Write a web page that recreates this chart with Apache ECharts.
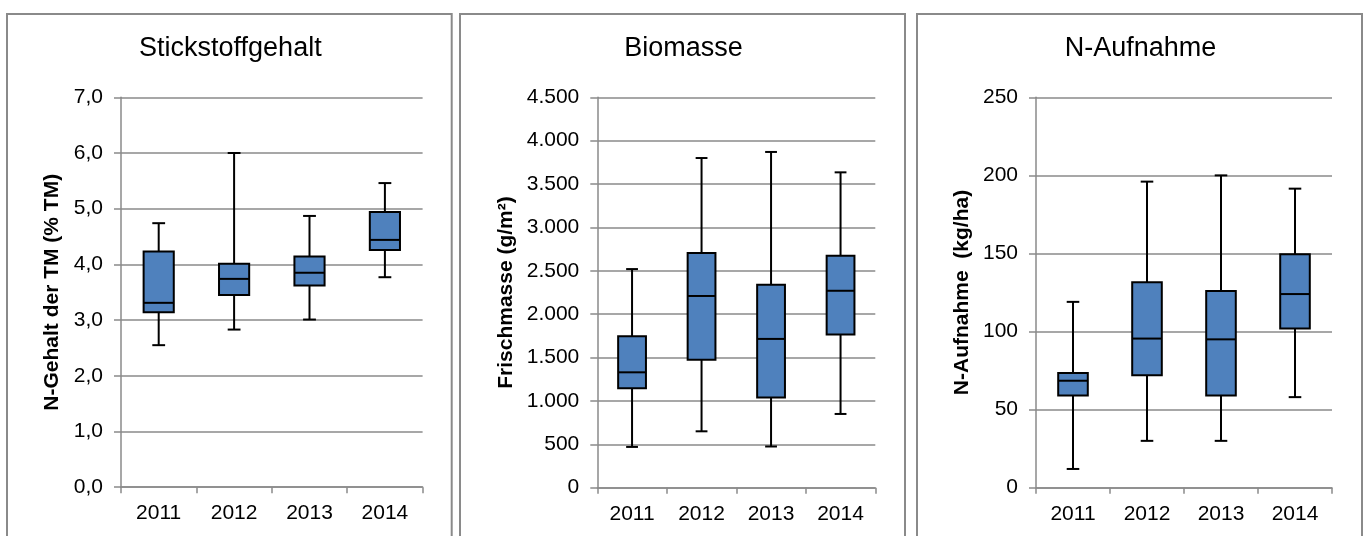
<!DOCTYPE html>
<html>
<head>
<meta charset="utf-8">
<script src="https://cdn.jsdelivr.net/npm/echarts@6/dist/echarts.min.js"></script>
<style>
  html, body { margin: 0; padding: 0; background: #ffffff; }
  #chart { width: 1365px; height: 536px; }
</style>
</head>
<body>
<div id="chart"></div>
<script>
// Erntejahre
const years = ['2011', '2012', '2013', '2014'];

// Stickstoffgehalt, N-Gehalt der TM (% TM)
const nGehaltMin    = [2.55, 2.83, 3.01, 3.77];
const nGehaltQ1     = [3.14, 3.45, 3.62, 4.26];
const nGehaltMedian = [3.31, 3.74, 3.85, 4.44];
const nGehaltQ3     = [4.23, 4.01, 4.14, 4.94];
const nGehaltMax    = [4.74, 6.00, 4.87, 5.46];

// Biomasse, Frischmasse (g/m²)
const biomasseMin    = [470, 650, 475, 850];
const biomasseQ1     = [1145, 1475, 1040, 1765];
const biomasseMedian = [1330, 2210, 1715, 2270];
const biomasseQ3     = [1745, 2705, 2340, 2675];
const biomasseMax    = [2520, 3800, 3870, 3635];

// N-Aufnahme (kg/ha)
const nAufnahmeMin    = [12, 30, 30, 58];
const nAufnahmeQ1     = [59, 72, 59, 102];
const nAufnahmeMedian = [68.5, 95.5, 95, 124];
const nAufnahmeQ3     = [73.5, 131.5, 126, 149.5];
const nAufnahmeMax    = [119, 196, 200, 191.5];

// Achsenbeschriftungen
const titles = ['Stickstoffgehalt', 'Biomasse', 'N-Aufnahme'];
const axisNames = ['N-Gehalt der TM (% TM)', 'Frischmasse (g/m²)', 'N-Aufnahme  (kg/ha)'];

const FONT = '"Liberation Sans", Arial, Helvetica, sans-serif';
const GREY = '#8a8a8a';
const BOX_BLUE = '#4f81bd';

function toRows(mins, q1s, meds, q3s, maxs) {
  return years.map((_, i) => [i, mins[i], q1s[i], meds[i], q3s[i], maxs[i]]);
}

// Box with whiskers and short end caps, positioned through the axis scales
function renderBox(params, api) {
  const i = api.value(0);
  const pMin = api.coord([i, api.value(1)]);
  const pQ1  = api.coord([i, api.value(2)]);
  const pMed = api.coord([i, api.value(3)]);
  const pQ3  = api.coord([i, api.value(4)]);
  const pMax = api.coord([i, api.value(5)]);
  const band = api.size([1, 0])[0];
  const cx = pMed[0];
  const bw = band * 0.4;
  const cw = band * 0.17;
  const ink = { stroke: '#000000', lineWidth: 2, fill: null };
  return {
    type: 'group',
    children: [
      { type: 'line', shape: { x1: cx, y1: pMax[1], x2: cx, y2: pQ3[1] }, style: ink },
      { type: 'line', shape: { x1: cx, y1: pQ1[1], x2: cx, y2: pMin[1] }, style: ink },
      { type: 'line', shape: { x1: cx - cw / 2, y1: pMax[1], x2: cx + cw / 2, y2: pMax[1] }, style: ink },
      { type: 'line', shape: { x1: cx - cw / 2, y1: pMin[1], x2: cx + cw / 2, y2: pMin[1] }, style: ink },
      { type: 'rect', shape: { x: cx - bw / 2, y: pQ3[1], width: bw, height: pQ1[1] - pQ3[1] },
        style: { fill: BOX_BLUE, stroke: '#000000', lineWidth: 2 } },
      { type: 'line', shape: { x1: cx - bw / 2, y1: pMed[1], x2: cx + bw / 2, y2: pMed[1] }, style: ink }
    ]
  };
}

const fmtComma1 = v => v.toFixed(1).replace('.', ',');
const fmtThousands = v => v >= 1000
  ? Math.floor(v / 1000) + '.' + String(v % 1000).padStart(3, '0')
  : String(v);
const fmtPlain = v => String(v);

const grids = [
  { left: 121,  top: 97.3, width: 301.6, height: 389.9 },
  { left: 597.3, top: 97.3, width: 278,  height: 390.4 },
  { left: 1036, top: 97.3, width: 296,  height: 390.4 }
].map(g => Object.assign({ containLabel: false, outerBoundsMode: 'none' }, g));

function xAxisFor(gridIndex) {
  return {
    type: 'category', gridIndex, data: years, boundaryGap: true,
    axisLine: { show: true, lineStyle: { color: GREY, width: 1.5 } },
    axisTick: { show: true, length: 6, alignWithLabel: false, lineStyle: { color: GREY, width: 1.5 } },
    axisLabel: { margin: 16, fontFamily: FONT, fontSize: 21, color: '#000000' },
    splitLine: { show: false }
  };
}

function yAxisFor(gridIndex, max, interval, formatter, nameGap) {
  return {
    type: 'value', gridIndex, min: 0, max, interval,
    name: axisNames[gridIndex], nameLocation: 'middle', nameRotate: 90, nameGap,
    nameTextStyle: { fontFamily: FONT, fontSize: 21, fontWeight: 'bold', color: '#000000' },
    axisLine: { show: true, lineStyle: { color: GREY, width: 1.5 } },
    axisTick: { show: true, length: 7, lineStyle: { color: GREY, width: 1.5 } },
    axisLabel: { margin: 18, fontFamily: FONT, fontSize: 21, color: '#000000', formatter },
    splitLine: { show: true, lineStyle: { color: GREY, width: 1.5 } }
  };
}

// Panel frames and headings
const frames = [
  { x: 7,   y: 14, width: 444.7, height: 540 },
  { x: 460, y: 14, width: 445,   height: 540 },
  { x: 917, y: 14, width: 445,   height: 540 }
];
const graphic = [];
frames.forEach((f, k) => {
  graphic.push({ type: 'rect', shape: f, style: { fill: null, stroke: GREY, lineWidth: 2 }, silent: true });
  graphic.push({
    type: 'text', x: f.x + f.width / 2 + 1, y: 49,
    style: { text: titles[k], font: '27px ' + FONT, fill: '#000000',
             align: 'center', verticalAlign: 'middle', textAlign: 'center', textVerticalAlign: 'middle' },
    silent: true
  });
});

const option = {
  backgroundColor: '#ffffff',
  animation: false,
  grid: grids,
  xAxis: [xAxisFor(0), xAxisFor(1), xAxisFor(2)],
  yAxis: [
    yAxisFor(0, 7, 1, fmtComma1, 58),
    yAxisFor(1, 4500, 500, fmtThousands, 81),
    yAxisFor(2, 250, 50, fmtPlain, 63)
  ],
  graphic,
  series: [
    { type: 'custom', xAxisIndex: 0, yAxisIndex: 0, renderItem: renderBox,
      encode: { x: 0, y: [1, 2, 3, 4, 5] },
      data: toRows(nGehaltMin, nGehaltQ1, nGehaltMedian, nGehaltQ3, nGehaltMax) },
    { type: 'custom', xAxisIndex: 1, yAxisIndex: 1, renderItem: renderBox,
      encode: { x: 0, y: [1, 2, 3, 4, 5] },
      data: toRows(biomasseMin, biomasseQ1, biomasseMedian, biomasseQ3, biomasseMax) },
    { type: 'custom', xAxisIndex: 2, yAxisIndex: 2, renderItem: renderBox,
      encode: { x: 0, y: [1, 2, 3, 4, 5] },
      data: toRows(nAufnahmeMin, nAufnahmeQ1, nAufnahmeMedian, nAufnahmeQ3, nAufnahmeMax) }
  ]
};

const chart = echarts.init(document.getElementById('chart'), null, { renderer: 'canvas' });
chart.setOption(option);
</script>
</body>
</html>
